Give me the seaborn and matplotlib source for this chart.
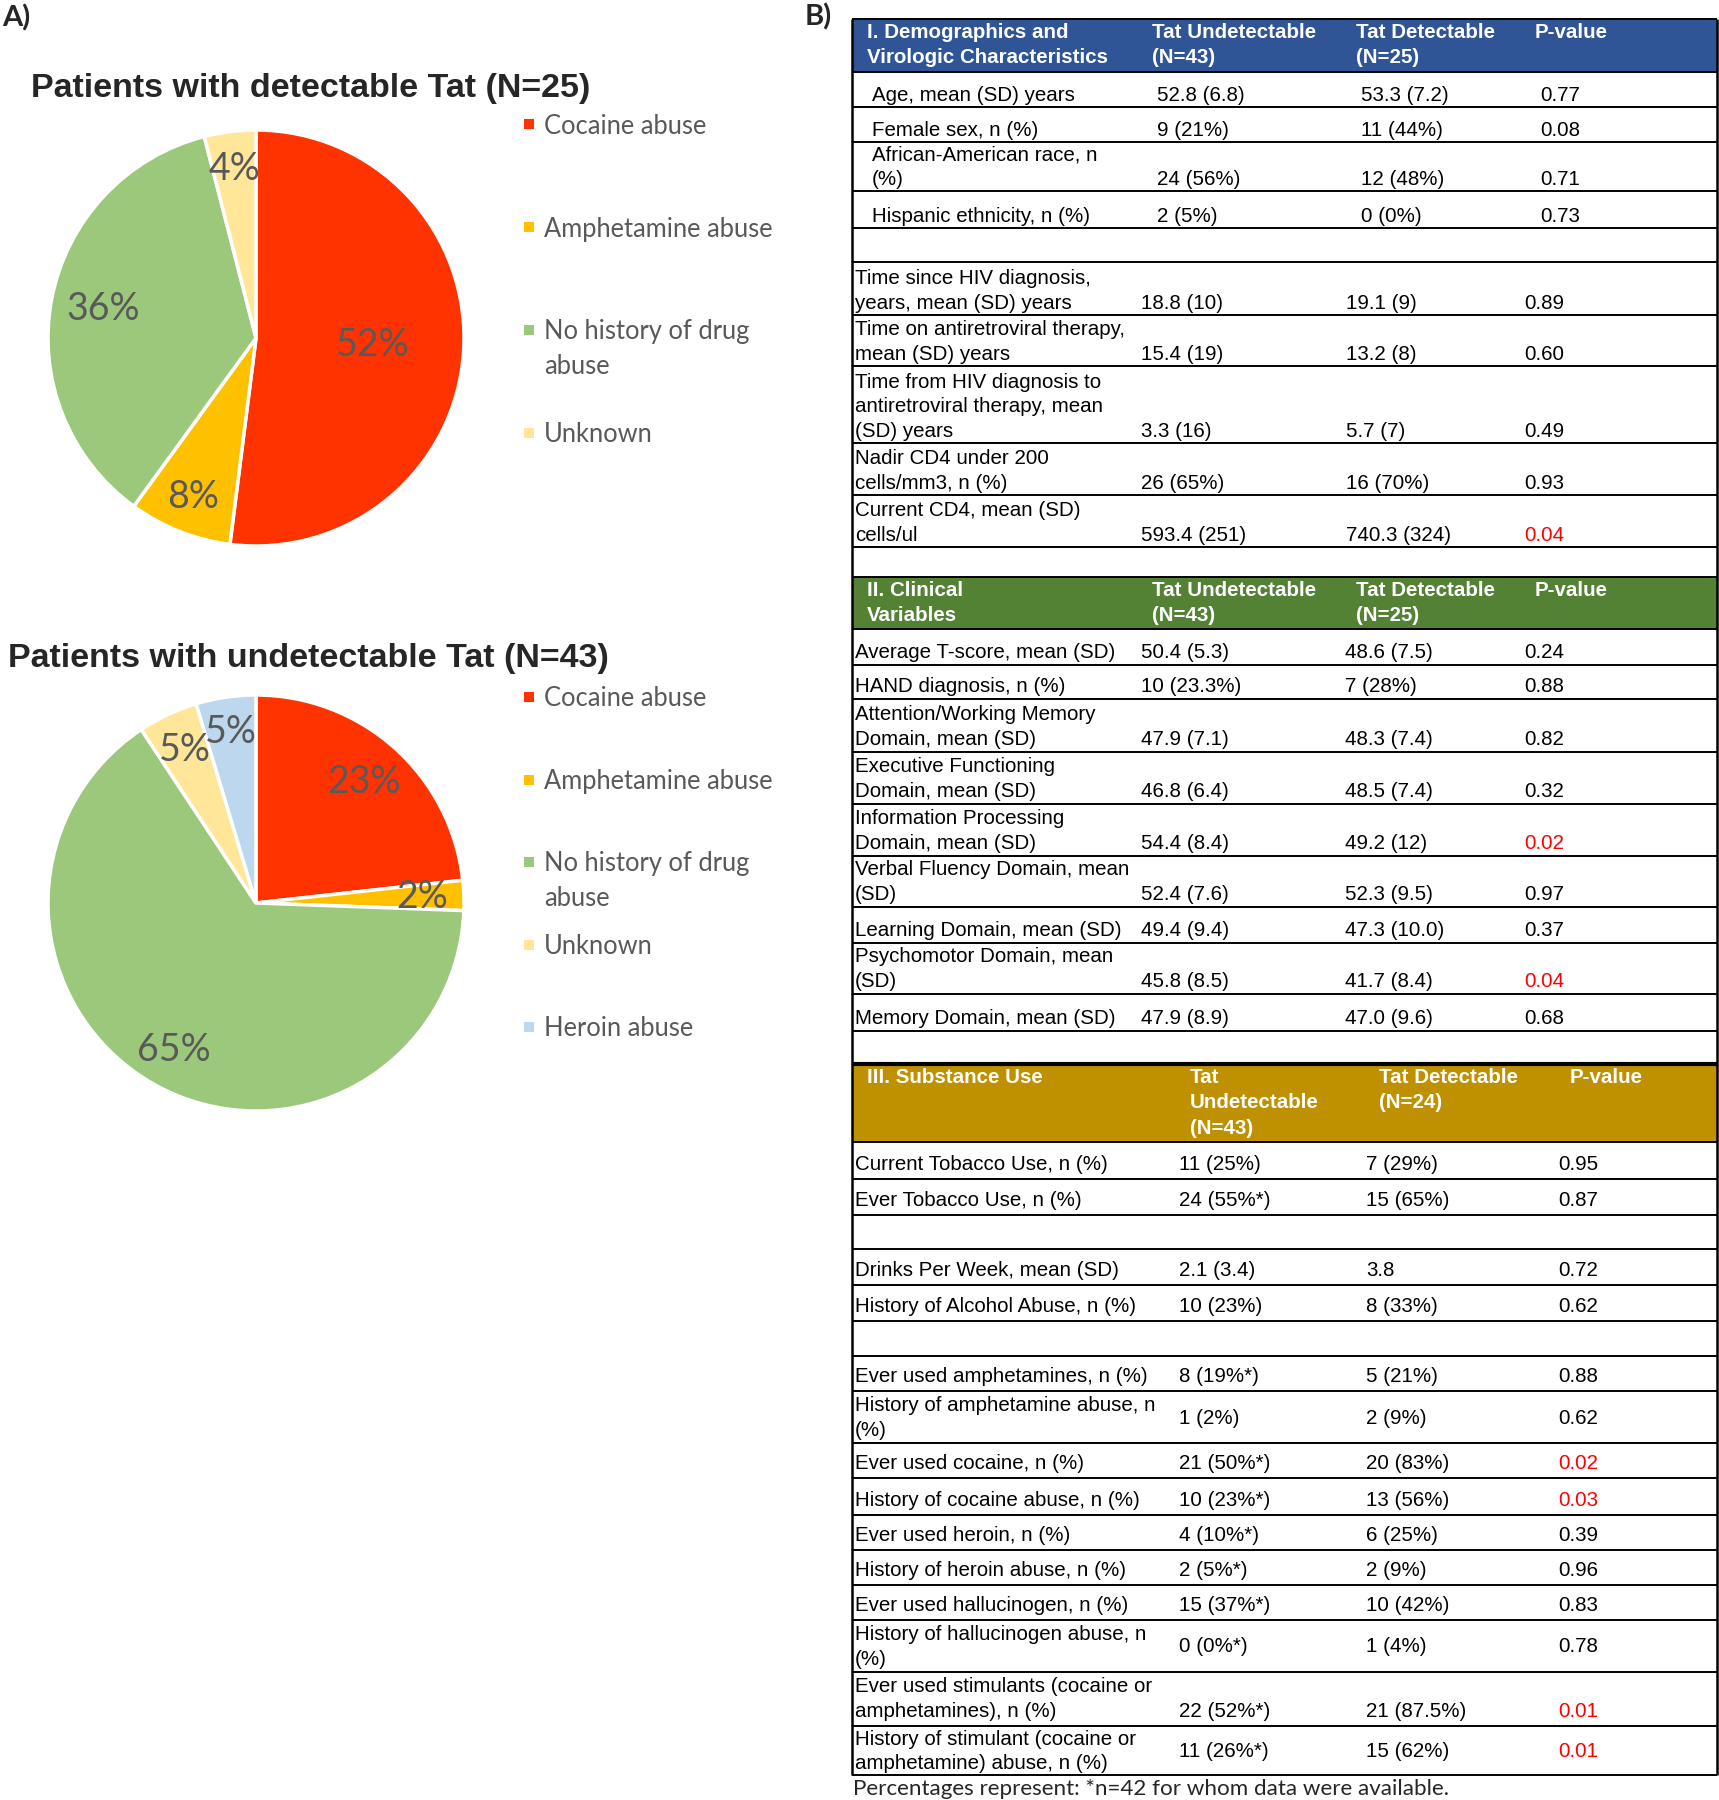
import numpy as np
import matplotlib
matplotlib.use("Agg")
import matplotlib.pyplot as plt
from matplotlib.patches import Rectangle
import seaborn as sns

sns.set_theme(style="white")
plt.rcParams['font.family'] = ['Liberation Sans', 'DejaVu Sans']

# ---------------- data: pies ----------------
cats_det = ['Cocaine abuse', 'Amphetamine abuse', 'No history of drug\nabuse', 'Unknown']
counts_det = [13, 2, 9, 1]          # N=25
cats_undet = ['Cocaine abuse', 'Amphetamine abuse', 'No history of drug\nabuse', 'Unknown', 'Heroin abuse']
counts_undet = [10, 1, 28, 2, 2]    # N=43
pie_colors = ['#FF3300', '#FFC000', '#9CC87C', '#FFE699', '#BDD7EE']

# ---------------- data: table ----------------
sec1_header = ['I. Demographics and\nVirologic Characteristics', 'Tat Undetectable\n(N=43)',
               'Tat Detectable\n(N=25)', 'P-value']
sec1_labels = ['Age, mean (SD) years', 'Female sex, n (%)', 'African-American race, n\n(%)',
               'Hispanic ethnicity, n (%)', '',
               'Time since HIV diagnosis,\nyears, mean (SD) years',
               'Time on antiretroviral therapy,\nmean (SD) years',
               'Time from HIV diagnosis to\nantiretroviral therapy, mean\n(SD) years',
               'Nadir CD4 under 200\ncells/mm3, n (%)', 'Current CD4, mean (SD)\ncells/ul', '']
sec1_undet = ['52.8 (6.8)', '9 (21%)', '24 (56%)', '2 (5%)', '', '18.8 (10)', '15.4 (19)',
              '3.3 (16)', '26 (65%)', '593.4 (251)', '']
sec1_det = ['53.3 (7.2)', '11 (44%)', '12 (48%)', '0 (0%)', '', '19.1 (9)', '13.2 (8)',
            '5.7 (7)', '16 (70%)', '740.3 (324)', '']
sec1_p = ['0.77', '0.08', '0.71', '0.73', '', '0.89', '0.60', '0.49', '0.93', '0.04', '']

sec2_header = ['II. Clinical\nVariables', 'Tat Undetectable\n(N=43)', 'Tat Detectable\n(N=25)', 'P-value']
sec2_labels = ['Average T-score, mean (SD)', 'HAND diagnosis, n (%)',
               'Attention/Working Memory\nDomain, mean (SD)', 'Executive Functioning\nDomain, mean (SD)',
               'Information Processing\nDomain, mean (SD)', 'Verbal Fluency Domain, mean\n(SD)',
               'Learning Domain, mean (SD)', 'Psychomotor Domain, mean\n(SD)',
               'Memory Domain, mean (SD)', '']
sec2_undet = ['50.4 (5.3)', '10 (23.3%)', '47.9 (7.1)', '46.8 (6.4)', '54.4 (8.4)', '52.4 (7.6)',
              '49.4 (9.4)', '45.8 (8.5)', '47.9 (8.9)', '']
sec2_det = ['48.6 (7.5)', '7 (28%)', '48.3 (7.4)', '48.5 (7.4)', '49.2 (12)', '52.3 (9.5)',
            '47.3 (10.0)', '41.7 (8.4)', '47.0 (9.6)', '']
sec2_p = ['0.24', '0.88', '0.82', '0.32', '0.02', '0.97', '0.37', '0.04', '0.68', '']

sec3_header = ['III. Substance Use', 'Tat\nUndetectable\n(N=43)', 'Tat Detectable\n(N=24)', 'P-value']
sec3_labels = ['Current Tobacco Use, n (%)', 'Ever Tobacco Use, n (%)', '',
               'Drinks Per Week, mean (SD)', 'History of Alcohol Abuse, n (%)', '',
               'Ever used amphetamines, n (%)', 'History of amphetamine abuse, n\n(%)',
               'Ever used cocaine, n (%)', 'History of cocaine abuse, n (%)',
               'Ever used heroin, n (%)', 'History of heroin abuse, n (%)',
               'Ever used hallucinogen, n (%)', 'History of hallucinogen abuse, n\n(%)',
               'Ever used stimulants (cocaine or\namphetamines), n (%)',
               'History of stimulant (cocaine or\namphetamine) abuse, n (%)']
sec3_undet = ['11 (25%)', '24 (55%*)', '', '2.1 (3.4)', '10 (23%)', '', '8 (19%*)', '1 (2%)',
              '21 (50%*)', '10 (23%*)', '4 (10%*)', '2 (5%*)', '15 (37%*)', '0 (0%*)',
              '22 (52%*)', '11 (26%*)']
sec3_det = ['7 (29%)', '15 (65%)', '', '3.8', '8 (33%)', '', '5 (21%)', '2 (9%)', '20 (83%)',
            '13 (56%)', '6 (25%)', '2 (9%)', '10 (42%)', '1 (4%)', '21 (87.5%)', '15 (62%)']
sec3_p = ['0.95', '0.87', '', '0.72', '0.62', '', '0.88', '0.62', '0.02', '0.03', '0.39',
          '0.96', '0.83', '0.78', '0.01', '0.01']

footnote = 'Percentages represent: *n=42 for whom data were available.'
header_colors = ['#2F5597', '#548235', '#BF9000']

# ---------------- layout (pixels) ----------------
W, H = 1719, 1800
row_edges = [19, 72, 107, 142, 191, 228, 262, 315, 366, 443, 495, 547, 577, 629, 665, 699,
             752, 804, 856, 907, 943, 994, 1031, 1064, 1142, 1179, 1215, 1249, 1285, 1321,
             1356, 1391, 1443, 1478, 1515, 1550, 1585, 1620, 1672, 1726, 1775]
tab_left, tab_right = 852, 1717
colx_hdr12 = [867, 1152, 1356, 1535]
colx_1a = [872, 1157, 1361, 1540]
colx_1b = [855, 1141, 1346, 1524]
colx_2 = [855, 1141, 1345, 1524]
colx_hdr3 = [867, 1190, 1379, 1570]
colx_3 = [855, 1179, 1366, 1558]
mid_rows = {'History of amphetamine abuse, n\n(%)', 'History of hallucinogen abuse, n\n(%)',
            'History of stimulant (cocaine or\namphetamine) abuse, n (%)'}

fig = plt.figure(figsize=(W / 100, H / 100), dpi=100)
ov = fig.add_axes([0, 0, 1, 1])
ov.set_xlim(0, W)
ov.set_ylim(H, 0)
ov.axis('off')

lato = ['Lato', 'DejaVu Sans']
gray = '#595959'

# panel letters
ov.text(2, 18, 'A)', fontsize=21, fontweight='bold', family=lato, va='center', ha='left')
ov.text(805, 17, 'B)', fontsize=21, fontweight='bold', family=lato, va='center', ha='left')


def draw_pie(counts, cats, title, cx, cy, r, tx, ty, leg_x, leg_y0, leg_dy, dists):
    ax = fig.add_axes([(cx - r) / W, 1 - (cy + r) / H, 2 * r / W, 2 * r / H])
    wedges, _, autos = ax.pie(counts, colors=pie_colors[:len(counts)], startangle=90,
                              counterclock=False, autopct='%1.0f%%',
                              wedgeprops=dict(edgecolor='white', linewidth=2.5),
                              textprops=dict(color=gray, fontsize=27, family=lato))
    ax.set_xlim(-1, 1)
    ax.set_ylim(-1, 1)
    for w, t, d in zip(wedges, autos, dists):
        mid = np.deg2rad((w.theta1 + w.theta2) / 2)
        t.set_position((d * np.cos(mid), d * np.sin(mid)))
    ov.text(tx, ty, title, fontsize=24.5, fontweight='bold', va='center', ha='left')
    for i, lab in enumerate(cats):
        y = leg_y0 + i * leg_dy
        ov.scatter([leg_x], [y], marker='s', s=55, color=pie_colors[i], linewidths=0)
        ov.text(leg_x + 15, y - 10.5, lab, fontsize=18.4, color=gray, family=lato,
                va='top', ha='left', linespacing=1.45)


draw_pie(counts_det, cats_det, 'Patients with detectable Tat (N=25)', 256, 338, 208,
         31, 88, 529, 124, 103, [0.56, 0.82, 0.75, 0.82])
draw_pie(counts_undet, cats_undet, 'Patients with undetectable Tat (N=43)', 256, 903, 208,
         8, 658, 529, 697, 82.5, [0.78, 0.80, 0.81, 0.81, 0.83])

# ---------------- table ----------------
rows = [('hdr', sec1_header, colx_hdr12, header_colors[0], 2)]
for i in range(len(sec1_labels)):
    rows.append(('body', [sec1_labels[i], sec1_undet[i], sec1_det[i], sec1_p[i]],
                 colx_1a if i < 5 else colx_1b, None, 2))
rows.append(('hdr', sec2_header, colx_hdr12, header_colors[1], 2))
for i in range(len(sec2_labels)):
    rows.append(('body', [sec2_labels[i], sec2_undet[i], sec2_det[i], sec2_p[i]], colx_2, None, 3))
gold_row = len(rows)
rows.append(('hdr', sec3_header, colx_hdr3, header_colors[2], 2))
for i in range(len(sec3_labels)):
    rows.append(('body', [sec3_labels[i], sec3_undet[i], sec3_det[i], sec3_p[i]], colx_3, None, 5))

tfs = 14.8
lsp = 1.38
for r, (kind, texts, xs, col, pad) in enumerate(rows):
    top, bot = row_edges[r], row_edges[r + 1]
    if kind == 'hdr':
        ov.add_patch(Rectangle((tab_left, top), tab_right - tab_left, bot - top,
                               facecolor=col, edgecolor='none', zorder=1))
        for x, t in zip(xs, texts):
            ov.text(x, top + 4, t, fontsize=tfs, fontweight='bold', color='white',
                    va='top', ha='left', linespacing=1.42, zorder=3)
    else:
        for j, (x, t) in enumerate(zip(xs, texts)):
            if not t:
                continue
            c = 'black'
            if j == 3 and float(t) < 0.05:
                c = '#FF0000'
            if texts[0] in mid_rows:
                ov.text(x, (top + bot) / 2 + 1, t, fontsize=tfs, color=c, va='center', ha='left',
                        linespacing=lsp, zorder=3)
            else:
                ov.text(x, bot - pad, t, fontsize=tfs, color=c, va='bottom', ha='left',
                        linespacing=lsp, zorder=3)

ov.hlines(row_edges, tab_left, tab_right, color='black', lw=1.4, zorder=4)
ov.hlines([row_edges[gold_row]], tab_left, tab_right, color='black', lw=3, zorder=4)
ov.vlines([tab_left, tab_right], row_edges[0], row_edges[-1], color='black', lw=1.8, zorder=4)

ov.text(853, 1789, footnote, fontsize=16.1, family=lato, va='center', ha='left')

fig.savefig('out.png', dpi=100)
